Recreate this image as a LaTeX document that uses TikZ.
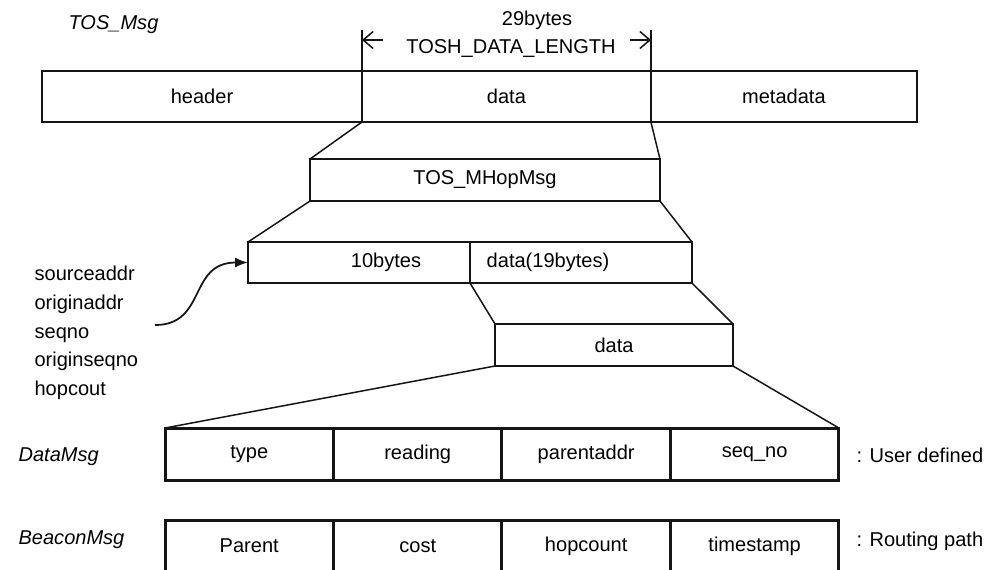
\documentclass[tikz,border=0pt]{standalone}
\usepackage{fontspec}
\setmainfont{Liberation Sans}
\usetikzlibrary{arrows.meta, positioning}
\definecolor{cink}{HTML}{151515}
\tikzset{
  every picture/.style={font=\fontsize{11.4}{13.7}\selectfont, line width=0.85pt},
  cell/.style={draw=cink, inner sep=0pt, outer sep=0pt, minimum height=#1},
  cell/.default=0.84cm,
  fieldcell/.style={draw=cink, line width=1.7pt, inner sep=0pt, outer sep=0pt, minimum width=3.37cm, minimum height=1.04cm},
  msgname/.style={font=\fontsize{11.4}{13.7}\selectfont\itshape, anchor=west},
  note/.style={anchor=west},
  dim/.style={-{Straight Barb[length=2mm, width=3.4mm]}, draw=cink},
  link/.style={draw=cink},
  ptr/.style={-{Latex[length=2.6mm, width=2mm]}, draw=cink, line width=1pt},
}
\begin{document}
\begin{tikzpicture}[x=0.02cm, y=-0.02cm]
  % units: 1 = one pixel of the 997x569 frame, y runs down
  \clip (0,0) rectangle (997,569);
  \node[msgname] (tosmsg) at (62,25) {TOS\_Msg};
  \node[cell=1.02cm, minimum width=6.4cm] (header) at (202,96.5) {header};
  \node[cell=1.02cm, minimum width=5.78cm, right=0pt of header] (data) {data};
  \node[cell=1.02cm, minimum width=5.32cm, right=0pt of data] (meta) {metadata};
  % length of the data field
  \coordinate (lenL) at (362,40);
  \coordinate (lenR) at (651,40);
  \draw[link] (data.north west) -- ++(0,-41);
  \draw[link] (data.north east) -- ++(0,-41);
  \draw[dim] ([xshift=0.42cm]lenL) -- (lenL);
  \draw[dim] ([xshift=-0.42cm]lenR) -- (lenR);
  \node (bytes) at (537,20) {29bytes};
  \node (toshlen) at (511,48) {TOSH\_DATA\_LENGTH};
  \node[cell, minimum width=7cm] (mhop) at (485,180) {TOS\_MHopMsg};
  \draw[link] (data.south west) -- (mhop.north west);
  \draw[link] (data.south east) -- (mhop.north east);
  \node[cell=0.82cm, minimum width=4.44cm] (ten) at (359,262.5) {\hspace*{1.08cm}10bytes};
  \node[cell=0.82cm, minimum width=4.44cm, right=0pt of ten] (body) {data(19bytes)\hspace*{1.32cm}};
  \draw[link] (mhop.south west) -- (ten.north west);
  \draw[link] (mhop.south east) -- (body.north east);
  \node[cell, minimum width=4.76cm] (inner) at (614,345) {data};
  \draw[link] (body.south west) -- (inner.north west);
  \draw[link] (body.south east) -- (inner.north east);
  \node[anchor=west, align=left, font=\fontsize{11.4}{16.3}\selectfont] (fields) at (28,333)
    {sourceaddr\\originaddr\\seqno\\originseqno\\hopcout};
  \coordinate (fieldsend) at (155,325);
  \draw[ptr] (fieldsend) .. controls (207,325) and (188,262.5) .. (ten.west);
  % DataMsg
  \node[msgname] (datamsg) at (12,457) {DataMsg};
  \node[fieldcell] (type) at (249.25,454) {type};
  \node[fieldcell, right=0pt of type] (reading) {reading};
  \node[fieldcell, right=0pt of reading] (paddr) {parentaddr};
  \node[fieldcell, right=0pt of paddr] (seqno) {seq\_no};
  \node[note] (userdef) at (850,455) {: User defined};
  \draw[link] (inner.south west) -- (type.north west);
  \draw[link] (inner.south east) -- (seqno.north east);
  % BeaconMsg
  \node[msgname] (beaconmsg) at (12,540) {BeaconMsg};
  \node[fieldcell] (parent) at (249.25,546) {Parent};
  \node[fieldcell, right=0pt of parent] (cost) {cost};
  \node[fieldcell, right=0pt of cost] (hops) {hopcount};
  \node[fieldcell, right=0pt of hops] (stamp) {timestamp};
  \node[note] (routing) at (850,541) {: Routing path};
\end{tikzpicture}
\end{document}
